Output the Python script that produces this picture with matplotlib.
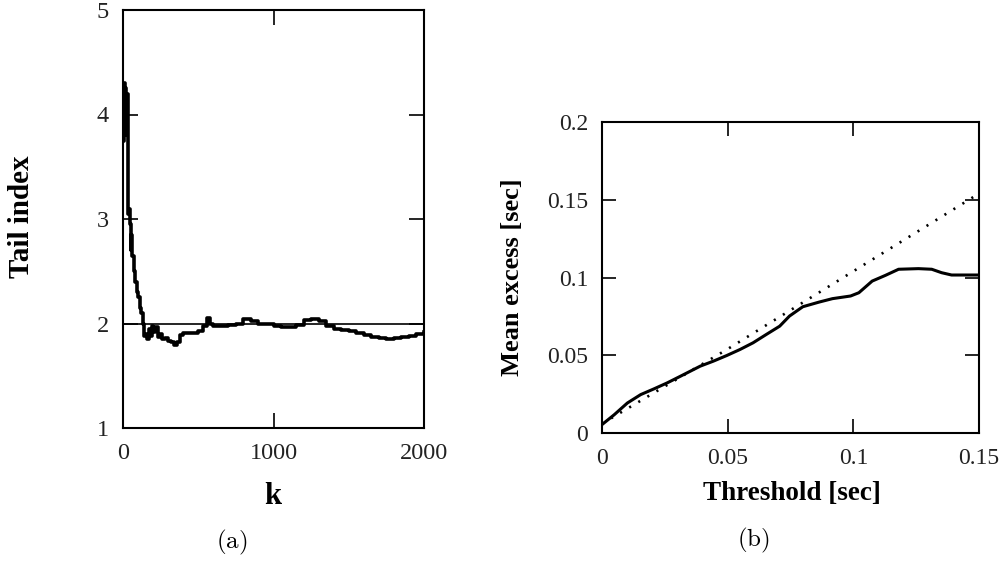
import numpy as np
import matplotlib.pyplot as plt

plt.rcParams['font.family'] = ['Liberation Serif', 'DejaVu Serif']
plt.rcParams['mathtext.fontset'] = 'cm'

# (a) Hill-type tail index estimate versus k
k_vals = [0, 5, 10, 15, 20, 25, 30, 35, 40, 45, 50, 55, 60, 70, 80, 90, 100, 110,
          120, 130, 140, 150, 160, 170, 180, 190, 200, 215, 230, 245, 260, 280,
          300, 320, 340, 360, 380, 400, 450, 500, 530, 560, 580, 600, 650, 700,
          750, 800, 850, 900, 950, 1000, 1050, 1100, 1150, 1200, 1250, 1300,
          1350, 1400, 1450, 1500, 1550, 1600, 1650, 1700, 1750, 1800, 1850,
          1900, 1950, 2000]
tail_idx = [3.75, 4.3, 3.8, 4.25, 3.85, 4.2, 3.95, 3.05, 3.1, 2.95, 2.7, 2.85,
            2.65, 2.5, 2.4, 2.3, 2.25, 2.15, 2.1, 2.0, 1.88, 1.9, 1.85, 1.95,
            1.88, 1.98, 1.92, 1.97, 1.87, 1.9, 1.85, 1.86, 1.83, 1.82, 1.79,
            1.82, 1.89, 1.91, 1.91, 1.93, 1.98, 2.05, 2.0, 1.98, 1.98, 1.99,
            2.0, 2.04, 2.02, 2.0, 2.0, 1.98, 1.97, 1.97, 1.99, 2.03, 2.04,
            2.02, 1.98, 1.95, 1.94, 1.93, 1.91, 1.89, 1.87, 1.86, 1.85, 1.86,
            1.87, 1.88, 1.90, 1.92]
ref_tail = 2

# (b) mean excess plot
thr = [0.0, 0.0049, 0.0101, 0.0154, 0.0207, 0.0259, 0.0312, 0.0391, 0.0443,
       0.0496, 0.0549, 0.0601, 0.0654, 0.0707, 0.0746, 0.0799, 0.0864, 0.0917,
       0.0989, 0.1022, 0.1075, 0.1128, 0.118, 0.1259, 0.1312, 0.1351, 0.1391,
       0.15]
mean_exc = [0.0054, 0.0118, 0.0193, 0.0247, 0.0284, 0.0322, 0.0365, 0.043,
            0.0462, 0.0498, 0.0537, 0.058, 0.0634, 0.0687, 0.0752, 0.0812,
            0.0842, 0.0864, 0.0881, 0.0902, 0.0977, 0.1014, 0.1053, 0.1057,
            0.1053, 0.1031, 0.1016, 0.1016]
fit_x = [0.0, 0.05, 0.1, 0.15]
fit_y = [0.006, 0.054, 0.104, 0.154]

W, H = 1008, 563
fig = plt.figure(figsize=(W / 100, H / 100), dpi=100)


def box(l, t, r, b):
    return [l / W, 1 - b / H, (r - l) / W, (b - t) / H]


def style(ax, size, tlen):
    for s in ax.spines.values():
        s.set_linewidth(1.5)
    ax.tick_params(direction='in', length=tlen, width=1.2, top=True, right=True,
                   labelsize=size, labelcolor='#222222')
    ax.tick_params(axis='x', pad=11)
    ax.tick_params(axis='y', pad=10)


ax1 = fig.add_axes(box(123, 10, 424, 428))
ax1.plot(k_vals, tail_idx, color='black', lw=2.6, drawstyle='steps-post')
ax1.axhline(ref_tail, color='black', lw=1.2)
ax1.set_xlim(0, 2000)
ax1.set_ylim(1, 5)
ax1.set_xticks([0, 1000, 2000])
ax1.set_yticks([1, 2, 3, 4, 5])
style(ax1, 17.5, 11)

ax2 = fig.add_axes(box(602, 122, 979, 433))
ax2.plot(fit_x, fit_y, color='black', lw=1.9, linestyle=(0, (0.8, 3.2)))
ax2.plot(thr, mean_exc, color='black', lw=2.2)
ax2.set_xlim(0, 0.15)
ax2.set_ylim(0, 0.2)
ax2.set_xticks([0, 0.05, 0.1, 0.15])
ax2.set_xticklabels(['0', '0.05', '0.1', '0.15'])
ax2.set_yticks([0, 0.05, 0.1, 0.15, 0.2])
ax2.set_yticklabels(['0', '0.05', '0.1', '0.15', '0.2'])
style(ax2, 17, 10)

fig.text(22 / W, 1 - 217 / H, 'Tail index', rotation=90, ha='center', va='center',
         fontsize=21, fontweight='bold')
fig.text(273 / W, 1 - 497 / H, 'k', ha='center', va='center', fontsize=22,
         fontweight='bold')
fig.text(512 / W, 1 - 277 / H, 'Mean excess [sec]', rotation=90, ha='center',
         va='center', fontsize=19, fontweight='bold')
fig.text(792 / W, 1 - 493 / H, 'Threshold [sec]', ha='center', va='center',
         fontsize=19.5, fontweight='bold')
fig.text(232 / W, 1 - 542 / H, r'$\mathrm{(a)}$', ha='center', va='center', fontsize=18)
fig.text(753 / W, 1 - 540 / H, r'$\mathrm{(b)}$', ha='center', va='center', fontsize=18)

fig.savefig('out.png', dpi=100)
